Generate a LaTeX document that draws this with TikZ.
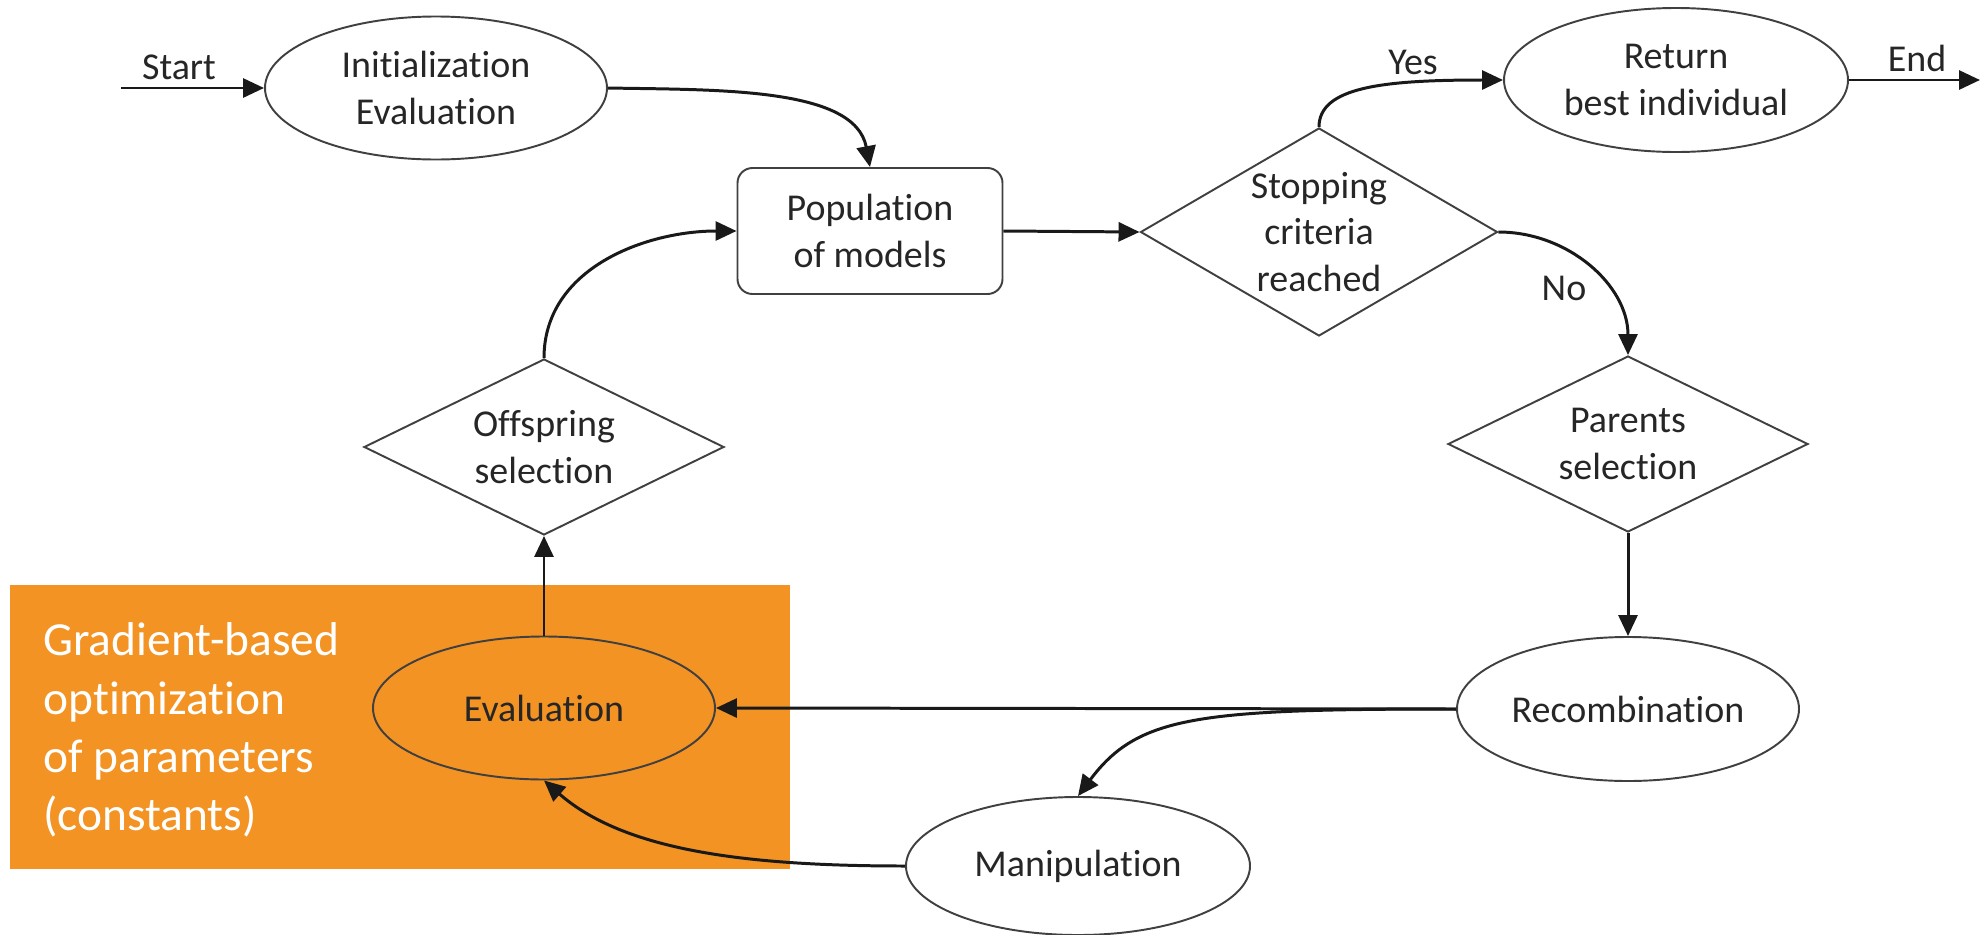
\documentclass[tikz,border=0pt]{standalone}
\usepackage{fontspec}
\setmainfont{Carlito}[Ligatures=NoCommon]
\usepackage{xcolor}
\usepackage{tikz}
\usetikzlibrary{arrows.meta,shapes.geometric}
\definecolor{optorange}{RGB}{243,147,35}

\begin{document}
\begin{tikzpicture}[
  every node/.style={font=\fontsize{10.8}{13.2}\selectfont,text=black!85},
  proc/.style={draw=black!75,line width=0.55pt,ellipse,minimum width=3.42cm,minimum height=1.43cm,inner sep=0pt,align=center},
  dec/.style={draw=black!75,line width=0.55pt,diamond,aspect=2,minimum width=3.6cm,minimum height=1.76cm,inner sep=0pt,align=center},
  popbox/.style={draw=black!75,line width=0.55pt,rounded corners=0.15cm,minimum width=2.65cm,minimum height=1.26cm,align=center},
  flow/.style={-{Triangle[length=2.1mm,width=1.9mm]},line width=0.85pt,black!90}]
 \useasboundingbox (0,0) rectangle (19.82,-9.35);
 % orange region behind the evaluation step
 \node[fill=optorange,minimum width=7.80cm,minimum height=2.84cm,inner sep=0pt] (optbox) at (4.00,-7.27) {};
 \node[anchor=west,align=left,text=white,font=\fontsize{13.5}{16.6}\selectfont] (opttext) at (0.31,-7.30) {Gradient-based\\optimization\\of parameters\\(constants)};
 \coordinate (startpt) at (1.21,-0.88);
 \coordinate (endpt) at (19.80,-0.80);
 \node[proc] (init) at (4.36,-0.88) {Initialization\\Evaluation};
 \node[popbox] (pop) at (8.70,-2.31) {Population\\of models};
 \node[dec,aspect=1.7,minimum height=2.08cm,minimum width=3.57cm] (stop) at (13.19,-2.32) {Stopping\\criteria\\reached};
 \node[proc,minimum width=3.44cm,minimum height=1.44cm] (ret) at (16.76,-0.80) {Return\\best individual};
 \node[dec] (par) at (16.28,-4.44) {Parents\\selection};
 \node[proc,minimum height=1.44cm] (rec) at (16.28,-7.09) {Recombination};
 \node[proc,minimum width=3.44cm,minimum height=1.38cm] (man) at (10.78,-8.66) {Manipulation};
 \node[proc] (eval) at (5.44,-7.08) {Evaluation};
 \node[dec] (off) at (5.44,-4.47) {Offspring\\selection};
 % labels on the connectors
 \node (startlbl) at (1.79,-0.67) {Start};
 \node (yeslbl) at (14.13,-0.62) {Yes};
 \node (endlbl) at (19.17,-0.58) {End};
 \node (nolbl) at (15.64,-2.88) {No};
 \draw[flow] (startpt) -- (init.west);
 \draw[flow] (init.east) .. controls +(1.1,-0.02) and +(-0.15,0.8) .. (pop.north);
 \draw[flow] (pop.east) -- (stop.west);
 \draw[flow] (stop.north) .. controls +(0,0.4) and +(-1.2,0) .. (ret.west);
 \draw[flow] (ret.east) -- (endpt);
 \draw[flow] (stop.east) to[out=0,in=90] (par.north);
 \draw[flow] (par.south) -- (rec.north);
 \draw[flow] (rec.west) -- (eval.east);
 \draw[flow] (rec.west) .. controls +(-2.6,0) and +(0.6,0.8) .. (man.north);
 \draw[flow] (man.west) .. controls +(-1.6,0) and +(0.8,-0.7) .. (eval.south);
 \draw[flow] (eval.north) -- (off.south);
 \draw[flow] (off.north) to[out=90,in=180] (pop.west);
\end{tikzpicture}
\end{document}
